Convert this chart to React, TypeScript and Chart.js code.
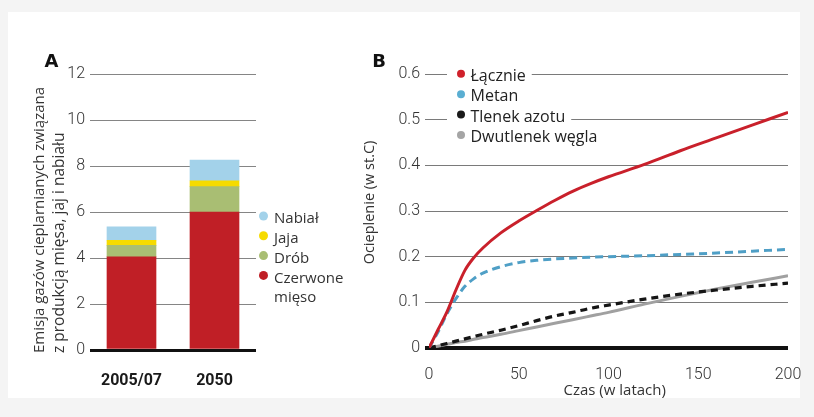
import React, { useEffect, useRef } from "react";
import { Chart, registerables } from "chart.js";

Chart.register(...registerables);

// ---------- Panel A data ----------
const periods = ["2005/07", "2050"];
const redMeat = [4.05, 6.0];
const poultry = [0.5, 1.1];
const eggs = [0.22, 0.26];
const dairy = [0.58, 0.9];
const emissionTicks = [0, 2, 4, 6, 8, 10, 12];

// ---------- Panel B data ----------
const years = [0, 5, 10, 15, 20, 25, 30, 40, 50, 60, 70, 80, 90, 100, 120, 140, 160, 180, 200];
const total = [0, 0.04, 0.079, 0.127, 0.17, 0.198, 0.219, 0.252, 0.278, 0.301, 0.323, 0.343, 0.36, 0.375, 0.402, 0.432, 0.46, 0.488, 0.516];
const methane = [0, 0.035, 0.075, 0.108, 0.135, 0.152, 0.164, 0.178, 0.187, 0.192, 0.195, 0.197, 0.199, 0.2, 0.202, 0.205, 0.208, 0.212, 0.216];
const nitrous = [0, 0.005, 0.01, 0.015, 0.02, 0.025, 0.03, 0.039, 0.049, 0.06, 0.07, 0.078, 0.087, 0.094, 0.107, 0.118, 0.127, 0.135, 0.142];
const co2 = [0, 0.004, 0.008, 0.012, 0.015, 0.019, 0.023, 0.03, 0.038, 0.046, 0.054, 0.062, 0.07, 0.078, 0.096, 0.113, 0.129, 0.144, 0.158];
const warmingTicks = [0, 0.1, 0.2, 0.3, 0.4, 0.5, 0.6];
const yearTicks = [0, 50, 100, 150, 200];

const TICK_FONT = { family: "Roboto, 'Liberation Sans', sans-serif", size: 16, weight: "300" };
const LABEL_FAMILY = "'Open Sans', 'Noto Sans', sans-serif";

const textPlugin = {
  id: "panelText",
  afterDraw(chart: any, _args: any, opts: any) {
    const ctx = chart.ctx;
    for (const t of (opts && opts.items) || []) {
      ctx.save();
      ctx.font = t.font;
      ctx.fillStyle = t.color || "#222";
      ctx.textAlign = t.align || "left";
      ctx.textBaseline = "middle";
      ctx.translate(t.x, t.y);
      if (t.rotate) ctx.rotate(t.rotate);
      ctx.fillText(t.text, 0, 0);
      ctx.restore();
    }
  },
};

function wrapText(ctx: CanvasRenderingContext2D, text: string, maxWidth: number): string[] {
  const words = text.split(" ");
  const lines: string[] = [];
  let cur = "";
  for (const w of words) {
    const test = cur ? cur + " " + w : w;
    if (cur && ctx.measureText(test).width > maxWidth) {
      lines.push(cur);
      cur = w;
    } else cur = test;
  }
  if (cur) lines.push(cur);
  return lines;
}

const dotLegend = {
  id: "dotLegend",
  afterDraw(chart: any, _args: any, o: any) {
    if (!o || !o.display) return;
    const ctx = chart.ctx;
    const ds = chart.data.datasets;
    const idx = ds.map((_: any, i: number) => i);
    if (o.reverse) idx.reverse();
    let y = o.y;
    ctx.save();
    ctx.font = o.font;
    ctx.textBaseline = "middle";
    ctx.textAlign = "left";
    for (const i of idx) {
      const d = ds[i];
      const lines = wrapText(ctx, d.label, o.maxWidth || 9999);
      if (o.knockout) {
        const w = Math.max(...lines.map((l: string) => ctx.measureText(l).width));
        ctx.fillStyle = "#ffffff";
        ctx.fillRect(o.knockoutLeft, y - 9, o.textX + w + o.knockoutRight - o.knockoutLeft, 18);
      }
      ctx.fillStyle = (o.dotColors && o.dotColors[i]) || d.backgroundColor || d.borderColor;
      ctx.beginPath();
      ctx.arc(o.x, y + o.dotDy, o.r, 0, Math.PI * 2);
      ctx.fill();
      ctx.fillStyle = o.color;
      lines.forEach((ln: string, k: number) => ctx.fillText(ln, o.textX, y + k * o.rowH));
      y += lines.length * o.rowH;
    }
    ctx.restore();
  },
};

function makeConfigA(): any {
  return {
    type: "bar",
    data: {
      labels: periods,
      datasets: [
        { label: "Czerwone mięso", data: redMeat, backgroundColor: "#c01f26" },
        { label: "Drób", data: poultry, backgroundColor: "#a9be73" },
        { label: "Jaja", data: eggs, backgroundColor: "#f6db00" },
        { label: "Nabiał", data: dairy, backgroundColor: "#a3d2ea" },
      ],
    },
    options: {
      responsive: false,
      animation: false,
      devicePixelRatio: 1,
      layout: { padding: { left: 0, top: 74, right: 104, bottom: 0 } },
      datasets: { bar: { barThickness: 49, borderWidth: 0 } },
      plugins: {
        legend: { display: false },
        tooltip: { enabled: false },
        panelText: {
          items: [
            { text: "A", x: 51.5, y: 62, align: "center", font: "bold 18px 'DejaVu Sans', sans-serif", color: "#111" },
            { text: "Emisja gazów cieplarnianych związana", x: 40, y: 353, rotate: -Math.PI / 2, align: "left", font: `15px ${LABEL_FAMILY}`, color: "#333" },
            { text: "z produkcją mięsa, jaj i nabiału", x: 60, y: 353, rotate: -Math.PI / 2, align: "left", font: `15.5px ${LABEL_FAMILY}`, color: "#333" },
          ],
        },
        dotLegend: {
          display: true,
          reverse: true,
          x: 263.5,
          textX: 274,
          y: 219,
          rowH: 19.8,
          r: 4.5,
          dotDy: -3,
          maxWidth: 75,
          font: `15px ${LABEL_FAMILY}`,
          color: "#333",
          dotColors: ["#c01f26", "#a9be73", "#f6db00", "#a3d2ea"],
        },
      },
      scales: {
        x: {
          stacked: true,
          grid: { display: false },
          border: { display: false },
          ticks: { font: { family: "Roboto, sans-serif", size: 16, weight: "bold" }, color: "#1a1a1a", padding: 13 },
          afterFit: (s: any) => { s.height = 67; },
        },
        y: {
          stacked: true,
          min: 0,
          max: 12,
          afterBuildTicks: (s: any) => { s.ticks = emissionTicks.map((v) => ({ value: v })); },
          afterFit: (s: any) => { s.width = 90; },
          ticks: { padding: 5, font: TICK_FONT, color: "#333", callback: (v: any) => String(v) },
          grid: {
            drawTicks: false,
            color: (c: any) => (c.tick && c.tick.value === 0 ? "#111111" : "#858585"),
            lineWidth: (c: any) => (c.tick && c.tick.value === 0 ? 3 : 1),
          },
          border: { display: false },
        },
      },
    },
    plugins: [textPlugin, dotLegend],
  };
}

function makeConfigB(): any {
  const pts = (arr: number[]) => years.map((x, i) => ({ x, y: arr[i] }));
  const base = { pointRadius: 0, pointHoverRadius: 0, cubicInterpolationMode: "monotone", fill: false };
  return {
    type: "line",
    data: {
      datasets: [
        { ...base, label: "Łącznie", data: pts(total), borderColor: "#c9202b", borderWidth: 3 },
        { ...base, label: "Metan", data: pts(methane), borderColor: "#4f9fc6", borderWidth: 3, borderDash: [8, 5] },
        { ...base, label: "Tlenek azotu", data: pts(nitrous), borderColor: "#151515", borderWidth: 3.2, borderDash: [7, 5] },
        { ...base, label: "Dwutlenek węgla", data: pts(co2), borderColor: "#a0a0a0", borderWidth: 3 },
      ],
    },
    options: {
      responsive: false,
      animation: false,
      devicePixelRatio: 1,
      layout: { padding: { left: 0, top: 74, right: 26, bottom: 0 } },
      plugins: {
        legend: { display: false },
        tooltip: { enabled: false },
        panelText: {
          items: [
            { text: "B", x: 19, y: 62, align: "center", font: "bold 18px 'DejaVu Sans', sans-serif", color: "#111" },
            { text: "Ocieplenie (w st.C)", x: 10, y: 202.5, rotate: -Math.PI / 2, align: "center", font: `14.5px ${LABEL_FAMILY}`, color: "#333" },
            { text: "Czas (w latach)", x: 254.7, y: 391, align: "center", font: `15px ${LABEL_FAMILY}`, color: "#333" },
          ],
        },
        dotLegend: {
          display: true,
          reverse: false,
          x: 101,
          textX: 110.5,
          y: 76.3,
          rowH: 20.4,
          r: 4,
          dotDy: -2.5,
          font: `16px ${LABEL_FAMILY}`,
          color: "#222",
          knockout: true,
          knockoutLeft: 87,
          knockoutRight: 6,
          dotColors: ["#d0212b", "#5aaed2", "#1a1a1a", "#a5a5a5"],
        },
      },
      scales: {
        x: {
          type: "linear",
          min: 0,
          max: 200,
          afterBuildTicks: (s: any) => { s.ticks = yearTicks.map((v) => ({ value: v })); },
          afterFit: (s: any) => { s.height = 69; },
          grid: { display: false },
          border: { display: false },
          ticks: { padding: 9, font: TICK_FONT, color: "#333", callback: (v: any) => String(v) },
        },
        y: {
          type: "linear",
          min: 0,
          max: 0.6,
          afterBuildTicks: (s: any) => { s.ticks = warmingTicks.map((v) => ({ value: v })); },
          afterFit: (s: any) => { s.width = 69; },
          ticks: { padding: 5, font: TICK_FONT, color: "#333", callback: (v: any) => (v === 0 ? "0" : Number(v).toFixed(1)) },
          grid: {
            drawTicks: true,
            tickLength: 4,
            color: (c: any) => (c.tick && c.tick.value === 0 ? "#111111" : "#7a7a7a"),
            lineWidth: (c: any) => (c.tick && c.tick.value === 0 ? 4 : 1),
          },
          border: { display: false },
        },
      },
    },
    plugins: [textPlugin, dotLegend],
  };
}

function ChartCanvas(props: { make: () => any; left: number; width: number; height: number }) {
  const ref = useRef<HTMLCanvasElement | null>(null);
  useEffect(() => {
    if (!ref.current) return;
    const chart = new Chart(ref.current, props.make());
    return () => chart.destroy();
  }, []);
  return (
    <canvas
      ref={ref}
      width={props.width}
      height={props.height}
      style={{ position: "absolute", left: props.left, top: 0, width: props.width, height: props.height }}
    />
  );
}

export default function App() {
  return (
    <div style={{ position: "absolute", left: 0, top: 0, width: 814, height: 417, background: "#f4f4f4", overflow: "hidden" }}>
      <div style={{ position: "absolute", left: 8, top: 12, width: 792, height: 386, background: "#ffffff" }} />
      <ChartCanvas make={makeConfigA} left={0} width={360} height={417} />
      <ChartCanvas make={makeConfigB} left={360} width={454} height={417} />
    </div>
  );
}
